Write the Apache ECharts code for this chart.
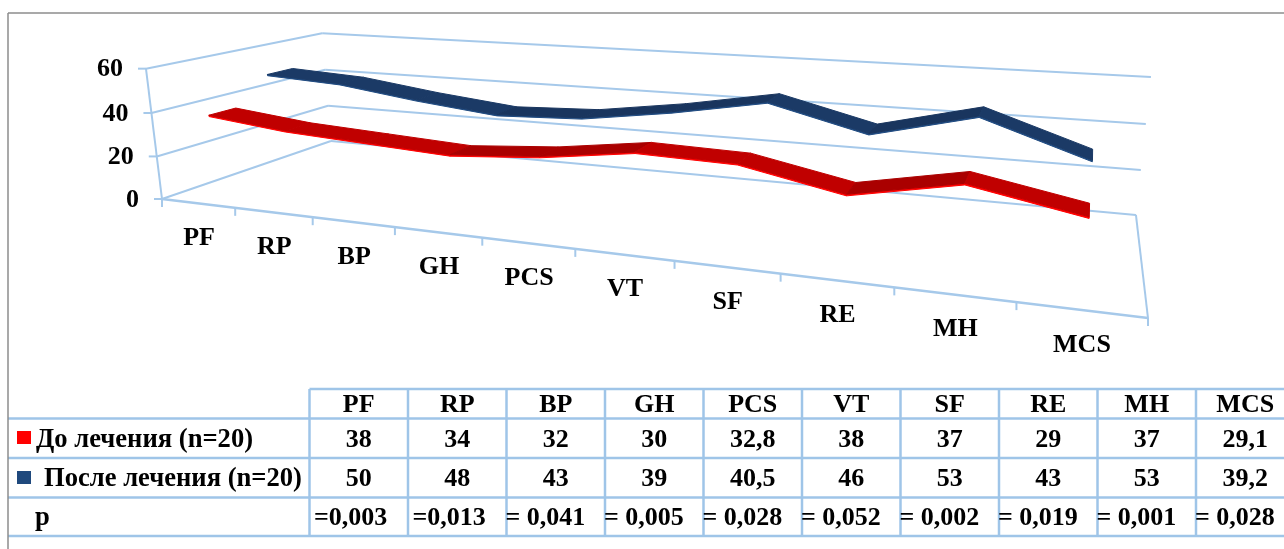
<!DOCTYPE html>
<html>
<head>
<meta charset="utf-8">
<style>
  html, body { margin: 0; padding: 0; background: #fff; }
  #chart { width: 1284px; height: 549px; }
</style>
<script src="https://cdn.jsdelivr.net/npm/echarts@6/dist/echarts.min.js"></script>
</head>
<body>
<div id="chart"></div>
<script>
const categories = ['PF', 'RP', 'BP', 'GH', 'PCS', 'VT', 'SF', 'RE', 'MH', 'MCS'];
const beforeValues = [38, 34, 32, 30, 32.8, 38, 37, 29, 37, 29.1];
const afterValues = [50, 48, 43, 39, 40.5, 46, 53, 43, 53, 39.2];
const pValues = ['=0,003', '=0,013', '= 0,041', '= 0,005', '= 0,028', '= 0,052', '= 0,002', '= 0,019', '= 0,001', '= 0,028'];
const yTicks = [0, 20, 40, 60];
const beforeName = 'До лечения (n=20)';
const afterName = 'После лечения (n=20)';

const FONT = 'bold 26px "Liberation Serif"';
const ROW_FONT = 'bold 26.6px "Liberation Serif"';
const GRID_COLOR = '#a6c9ea';

// perspective of the 3d box: u along categories, v up, d into the page (all 0..1)
const camX = [666.5, -20.4, 242, 162];
const camY = [30.5, -132.4, -26.9, 199];
const camW = [-0.2783, -0.03, 0.2207, 1];

function project(u, v, d) {
  const w = camW[0] * u + camW[1] * v + camW[2] * d + camW[3];
  return [
    (camX[0] * u + camX[1] * v + camX[2] * d + camX[3]) / w,
    (camY[0] * u + camY[1] * v + camY[2] * d + camY[3]) / w
  ];
}

function line(a, b, width) {
  return {
    type: 'line',
    shape: { x1: a[0], y1: a[1], x2: b[0], y2: b[1] },
    style: { stroke: GRID_COLOR, lineWidth: width || 2 }
  };
}

function label(text, x, y, align, font) {
  return {
    type: 'text',
    style: { text, x, y, align: align || 'center', verticalAlign: 'middle', font: font || FONT, fill: '#000' }
  };
}

function quad(points, fill) {
  return { type: 'polygon', shape: { points }, style: { fill, stroke: fill, lineWidth: 1 } };
}

// data -> unit cube through the hidden cartesian axes
function toUnit(params, api, x, y) {
  const pt = api.coord([x, y]);
  const r = params.coordSys;
  return [(pt[0] - r.x) / r.width, (r.y + r.height - pt[1]) / r.height];
}

function renderWalls(params, api) {
  const value = api.value(1);
  const v = toUnit(params, api, 0, value)[1];
  const front = project(0, v, 0);
  const children = [
    line(project(0, v, 0), project(0, v, 1)),
    line(project(0, v, 1), project(1, v, 1)),
    line([front[0] - 8, front[1]], front),
    label(String(value), front[0] - 23, front[1] + 1, 'right')
  ];
  if (value === 0) {
    const top = project(0, 1, 0);
    children.push(line(front, top));
    children.push(line(project(1, 0, 0), project(1, 0, 1)));
    children.push(line(front, project(1, 0, 0), 2.5));
    children.push(line(project(1, 0, 0), [project(1, 0, 0)[0], project(1, 0, 0)[1] + 8]));
  }
  return { type: 'group', children };
}

function renderCategory(params, api) {
  const i = params.dataIndex;
  const u = toUnit(params, api, i, 0)[0];
  const tick = project(i / categories.length, 0, 0);
  const base = project(u, 0, 0);
  return {
    type: 'group',
    children: [
      line(tick, [tick[0], tick[1] + 8]),
      label(categories[i], base[0] + 1, base[1] + 35)
    ]
  };
}

function ribbon(values, dFront, dBack, colors) {
  return function (params, api) {
    const i = params.dataIndex;
    if (i >= values.length - 1) return null;
    const a = toUnit(params, api, i, values[i]);
    const b = toUnit(params, api, i + 1, values[i + 1]);
    const drop = 0.6 / 60;
    const rising = values[i + 1] > values[i];
    return {
      type: 'group',
      children: [
        quad([
          project(a[0], a[1], dFront), project(b[0], b[1], dFront),
          project(b[0], b[1] - drop, dFront), project(a[0], a[1] - drop, dFront)
        ], colors.edge),
        quad([
          project(a[0], a[1], dFront), project(b[0], b[1], dFront),
          project(b[0], b[1], dBack), project(a[0], a[1], dBack)
        ], rising ? colors.rising : colors.falling)
      ]
    };
  };
}

// table under the plot
const columnLeft = 309.5;
const columnWidth = 98.5;
const rowLines = [389, 418.5, 458, 497.5, 536];
const tableGraphic = [];

function tableLine(x1, y1, x2, y2) {
  tableGraphic.push({
    type: 'line',
    shape: { x1, y1, x2, y2 },
    style: { stroke: '#9fc5e8', lineWidth: 2.5 }
  });
}

function tableText(text, x, y, align, font) {
  tableGraphic.push({
    type: 'text',
    style: { text, x, y, align: align || 'center', verticalAlign: 'middle', font: font || FONT, fill: '#000' }
  });
}

rowLines.forEach((y, k) => tableLine(k === 0 ? columnLeft : 8, y, 1284, y));
categories.forEach((name, i) => {
  const x = columnLeft + columnWidth * i;
  const mid = x + columnWidth / 2;
  tableLine(x, rowLines[0], x, rowLines[4]);
  tableText(name, mid, 405);
  tableText(String(beforeValues[i]).replace('.', ','), mid, 440);
  tableText(String(afterValues[i]).replace('.', ','), mid, 479);
  tableText(pValues[i], x + (pValues[i][1] === ' ' ? -1 : 4.5), 518, 'left');
});
tableText(beforeName, 36, 440, 'left', ROW_FONT);
tableText(afterName, 44, 479, 'left', ROW_FONT);
tableText('p', 35, 518, 'left', ROW_FONT);
[[431, '#ff0000'], [471, '#1f497d']].forEach(([y, fill]) => {
  tableGraphic.push({ type: 'rect', shape: { x: 17, y, width: 14, height: 13 }, style: { fill } });
});
// outer frame
[[8, 13, 1284, 13], [8, 13, 8, 549]].forEach(([x1, y1, x2, y2]) => {
  tableGraphic.push({ type: 'line', shape: { x1, y1, x2, y2 }, style: { stroke: '#8c8c8c', lineWidth: 1.5 } });
});

const chart = echarts.init(document.getElementById('chart'));
chart.setOption({
  animation: false,
  backgroundColor: '#fff',
  grid: { left: 0, right: 0, top: 0, bottom: 0 },
  xAxis: { type: 'category', data: categories, show: false },
  yAxis: { type: 'value', min: 0, max: 60, show: false },
  graphic: tableGraphic,
  series: [
    {
      type: 'custom',
      silent: true,
      renderItem: renderWalls,
      data: yTicks.map(t => [0, t]),
      encode: { x: 0, y: 1 }
    },
    {
      type: 'custom',
      silent: true,
      renderItem: renderCategory,
      data: categories.map((c, i) => [i, 0]),
      encode: { x: 0, y: 1 }
    },
    {
      name: afterName,
      type: 'custom',
      silent: true,
      renderItem: ribbon(afterValues, 0.43, 0.58, { edge: '#1f4a80', falling: '#1b3a66', rising: '#19355e' }),
      data: afterValues.map((v, i) => [i, v]),
      encode: { x: 0, y: 1 }
    },
    {
      name: beforeName,
      type: 'custom',
      silent: true,
      renderItem: ribbon(beforeValues, 0.1, 0.24, { edge: '#ff0000', falling: '#c00000', rising: '#aa0000' }),
      data: beforeValues.map((v, i) => [i, v]),
      encode: { x: 0, y: 1 }
    }
  ]
});
</script>
</body>
</html>
